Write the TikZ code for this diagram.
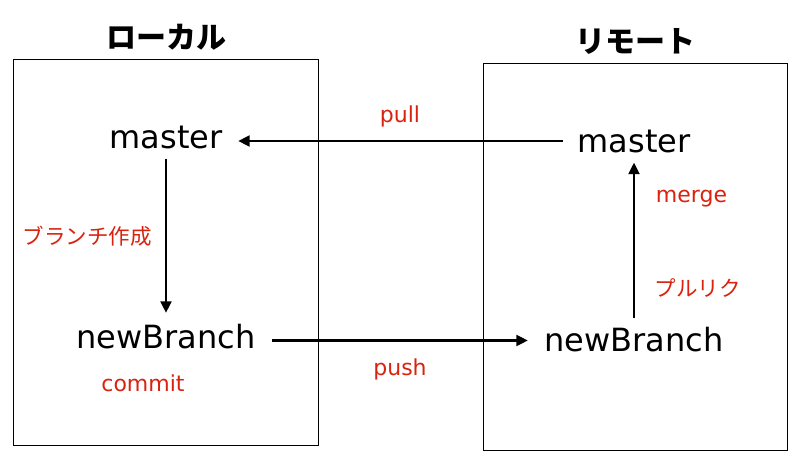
\documentclass[tikz,border=0pt]{standalone}
\usepackage{fontspec}
\setmainfont{DejaVu Sans}
\newfontfamily\jp{Noto Sans CJK JP}
\usetikzlibrary{arrows.meta}
\definecolor{lblred}{RGB}{217,35,15}
\begin{document}
\begin{tikzpicture}[x=1pt,y=-1pt,
  box/.style={draw=black,line width=1.4pt,inner sep=0pt,anchor=north west},
  branch/.style={font=\fontsize{32}{36}\selectfont,inner sep=0pt,anchor=base},
  title/.style={font=\jp\bfseries\fontsize{30}{34}\selectfont,inner sep=0pt},
  lbl/.style={text=lblred,font=\fontsize{22}{26}\selectfont,inner sep=0pt,anchor=base},
  jlbl/.style={text=lblred,font=\jp\fontsize{21.5}{25}\selectfont,inner sep=0pt},
  arr/.style={line width=2.2pt,-{Triangle[length=11.5pt,width=11pt]}}]
\useasboundingbox (0,0) rectangle (800,468);
\fill[white] (0,0) rectangle (800,468);

% containers
\node[box,minimum width=305pt,minimum height=386pt] (lbox) at (13,59) {};
\node[box,minimum width=304pt,minimum height=387pt] (rbox) at (482.5,63) {};

% titles
\node[title] (ltitle) at (166.5,37.5) {ローカル};
\node[title] (rtitle) at (635,41.5) {リモート};

% branch nodes
\node[branch] (lmaster) at (166,148) {master};
\node[branch] (lnew) at (166,348) {newBranch};
\node[branch] (rmaster) at (634,152) {master};
\node[branch] (rnew) at (634,351.3) {newBranch};

% rows for horizontal connectors
\coordinate (pullrow) at (0,141);
\coordinate (pushrow) at (0,340.5);

% connectors
\draw[arr,shorten <=14.6pt,shorten >=15.6pt] (rmaster.west |- pullrow) -- (lmaster.east |- pullrow);
\draw[arr,shorten <=16.5pt,shorten >=16.5pt] (lnew.east |- pushrow) -- (rnew.west |- pushrow);
\draw[arr,shorten <=10pt,shorten >=10.7pt] (lmaster.south) -- (lnew.north);
\draw[arr,shorten <=9pt,shorten >=10pt] (rnew.north) -- (rmaster.south);

% labels
\node[lbl] (lpull) at (400,123) {pull};
\node[lbl] (lpush) at (400,375) {push};
\node[lbl] (lcommit) at (143,391) {commit};
\node[lbl] (lmerge) at (691.5,202) {merge};
\node[jlbl] (lbranch) at (87,236) {ブランチ作成};
\node[jlbl] (lpr) at (697.5,288) {プルリク};
\end{tikzpicture}
\end{document}
